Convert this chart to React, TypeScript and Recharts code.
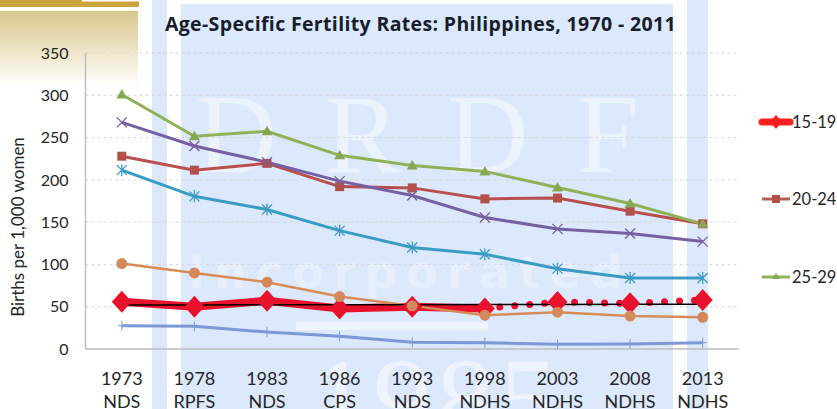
import React from "react";
import { LineChart, Line, XAxis, YAxis, CartesianGrid } from "recharts";

const years = ["1973", "1978", "1983", "1986", "1993", "1998", "2003", "2008", "2013"];
const surveys = ["NDS", "RPFS", "NDS", "CPS", "NDS", "NDHS", "NDHS", "NDHS", "NDHS"];
const yTicks = [0, 50, 100, 150, 200, 250, 300, 350];

const a15_19 = [56, 50, 57, 48, 50, 48, null, null, null];
const a15_19proj = [null, null, null, null, null, 48, 55.5, 54, 58];
const a20_24 = [228, 211.5, 219.5, 192, 190.5, 177.5, 178.5, 163, 148];
const a25_29 = [301, 251.5, 257.5, 229, 217, 210, 191, 172, 148];
const a30_34 = [268, 240, 221, 198.5, 181.5, 155.5, 142, 136.5, 127];
const a35_39 = [211.5, 180.5, 165, 140, 120, 112, 95, 84, 84];
const a40_44 = [101, 90, 79, 62, 51, 40, 43.5, 39, 37.5];
const a45_49 = [27.5, 27, 20, 15, 8, 7.5, 5.5, 6, 7.5];
const trend = [52, 52.1, 52.2, 52.3, 52.4, 52.5, 52.6, 52.8, 53];

const legendNames = ["15-19", "20-24", "25-29"];

const data = years.map((y, i) => ({
  year: y,
  survey: surveys[i],
  a15_19: a15_19[i],
  a15_19proj: a15_19proj[i],
  a20_24: a20_24[i],
  a25_29: a25_29[i],
  a30_34: a30_34[i],
  a35_39: a35_39[i],
  a40_44: a40_44[i],
  a45_49: a45_49[i],
  trend: trend[i],
}));

const FONT = "Lato, 'Open Sans', sans-serif";
const TFONT = "'Open Sans', Lato, sans-serif";
const RED = "#e8122d";

const ok = (p: any) => p && p.cx != null && p.cy != null && p.value != null && !Number.isNaN(p.cy);

const Diamond = (p: any) => {
  if (!ok(p)) return <g key={p.index} />;
  const { cx, cy } = p;
  return <path key={p.index} d={`M${cx},${cy - 11}L${cx + 10},${cy}L${cx},${cy + 11}L${cx - 10},${cy}Z`} fill={RED} />;
};
const DiamondProj = (p: any) => {
  if (!ok(p) || p.index < 6) return <g key={p.index} />;
  return Diamond(p);
};
const Square = (p: any) => {
  if (!ok(p)) return <g key={p.index} />;
  return <rect key={p.index} x={p.cx - 4.5} y={p.cy - 4.5} width={9} height={9} fill="#b3504c" />;
};
const Triangle = (p: any) => {
  if (!ok(p)) return <g key={p.index} />;
  const { cx, cy } = p;
  return <path key={p.index} d={`M${cx},${cy - 5.5}L${cx + 5.5},${cy + 4}L${cx - 5.5},${cy + 4}Z`} fill="#86a852" />;
};
const XMark = (p: any) => {
  if (!ok(p)) return <g key={p.index} />;
  const { cx, cy } = p;
  const s = 5;
  return (
    <path key={p.index} d={`M${cx - s},${cy - s}L${cx + s},${cy + s}M${cx - s},${cy + s}L${cx + s},${cy - s}`} stroke="#7560a3" strokeWidth={1.3} />
  );
};
const Asterisk = (p: any) => {
  if (!ok(p)) return <g key={p.index} />;
  const { cx, cy } = p;
  const s = 5;
  return (
    <path
      key={p.index}
      d={`M${cx - s},${cy - s}L${cx + s},${cy + s}M${cx - s},${cy + s}L${cx + s},${cy - s}M${cx},${cy - s - 1}L${cx},${cy + s + 1}`}
      stroke="#3a9cc4"
      strokeWidth={1.3}
    />
  );
};
const Circle = (p: any) => {
  if (!ok(p)) return <g key={p.index} />;
  return <circle key={p.index} cx={p.cx} cy={p.cy} r={5.5} fill="#d4895a" />;
};
const Plus = (p: any) => {
  if (!ok(p)) return <g key={p.index} />;
  const { cx, cy } = p;
  return <path key={p.index} d={`M${cx - 4},${cy}L${cx + 4},${cy}M${cx},${cy - 5}L${cx},${cy + 5}`} stroke="#7c98d6" strokeWidth={1} />;
};

const XTick = (p: any) => {
  const { x, y, payload, index } = p;
  return (
    <text x={x} y={y} textAnchor="middle" fill="#262626" fontSize={18} fontFamily={FONT}>
      <tspan x={x} y={y + 28}>{payload.value}</tspan>
      <tspan x={x} y={y + 51}>{surveys[index]}</tspan>
    </text>
  );
};

const LegendItem = ({ name, idx }: { name: string; idx: number }) => {
  const top = [122, 199, 277][idx];
  let marker: any = null;
  if (idx === 0) {
    marker = (
      <g>
        <line x1={4} y1={10} x2={32} y2={10} stroke={"#ff1f1f"} strokeWidth={7} strokeLinecap="round" />
        <path d="M18,3L24,10L18,17L12,10Z" fill="#ff1f1f" />
      </g>
    );
  } else if (idx === 1) {
    marker = (
      <g>
        <line x1={4} y1={10} x2={32} y2={10} stroke="#b85a56" strokeWidth={3} />
        <rect x={14} y={6} width={8} height={8} fill="#b3504c" />
      </g>
    );
  } else {
    marker = (
      <g>
        <line x1={4} y1={10} x2={32} y2={10} stroke="#8fb157" strokeWidth={3} />
        <path d="M18,6L22,12L14,12Z" fill="#86a852" />
      </g>
    );
  }
  return (
    <div style={{ position: "absolute", left: 758, top: top - 10, height: 20, display: "flex", alignItems: "center" }}>
      <svg width={36} height={20}>{marker}</svg>
      <span style={{ fontFamily: FONT, fontSize: 16.5, color: "#262626", marginLeft: -2, whiteSpace: "nowrap" }}>{name}</span>
    </div>
  );
};

export default function App() {
  return (
    <div style={{ position: "fixed", left: 0, top: 0, width: 837, height: 409, background: "#fff", overflow: "hidden" }}>
      <svg width={837} height={409} style={{ position: "absolute", left: 0, top: 0 }}>
        <defs>
          <linearGradient id="gold" x1="0" y1="0" x2="0" y2="1">
            <stop offset="0" stopColor="#d8c68e" />
            <stop offset="0.55" stopColor="#efe6c9" />
            <stop offset="1" stopColor="#ffffff" />
          </linearGradient>
        </defs>
        {/* watermark background */}
        <rect x={152} y={0} width={15} height={409} fill="#dce8fb" />
        <rect x={181} y={4} width={492} height={405} fill="#dce8fb" />
        <rect x={687} y={0} width={21} height={409} fill="#dce8fb" />
        <text x={196} y={172} fontFamily="'Liberation Serif', serif" fontSize={112} fill="#edf3fd" letterSpacing={48}>
          DRDF
        </text>
        <text x={188} y={288} fontFamily="'DejaVu Sans', sans-serif" fontWeight="bold" fontSize={46} fill="#e8effc" letterSpacing={9}>
          Incorporated
        </text>
        <rect x={296} y={322} width={192} height={8} fill="#eff4fd" />
        <text x={310} y={440} fontFamily="'Liberation Serif', serif" fontSize={118} fill="#eef3fd" letterSpacing={4}>
          1985
        </text>
        {/* gold decoration */}
        <rect x={0} y={0} width={139} height={7} fill="#c9a53b" />
        <rect x={82} y={0} width={57} height={1.5} fill="#ffffff" />
        <rect x={0} y={11} width={138} height={75} fill="url(#gold)" />
        <text x={420.5} y={31} textAnchor="middle" fontFamily={TFONT} fontWeight="bold" fontSize={19.5} letterSpacing={0.35} fill="#171d2b">
          Age-Specific Fertility Rates: Philippines, 1970 - 2011
        </text>
        <text
          x={0}
          y={0}
          transform="translate(24,227) rotate(-90)"
          textAnchor="middle"
          fontFamily={FONT}
          fontSize={17}
          fill="#262626"
        >
          Births per 1,000 women
        </text>
      </svg>
      <div style={{ position: "absolute", left: 0, top: 0 }}>
        <LineChart width={837} height={409} data={data} margin={{ top: 53, right: 98, bottom: 0, left: 0 }}>
          <CartesianGrid vertical={false} stroke="#d6d6d6" strokeDasharray="3 3" />
          <XAxis
            dataKey="year"
            tick={<XTick />}
            tickLine={false}
            axisLine={{ stroke: "#bfbfbf", strokeWidth: 1.5 }}
            interval={0}
            height={60}
            padding={{ left: 36.3, right: 36.3 }}
          />
          <YAxis
            width={85.5}
            domain={[0, 350]}
            ticks={yTicks}
            tickLine={false}
            tickSize={0}
            tickMargin={17}
            axisLine={{ stroke: "#bfbfbf", strokeWidth: 1.5 }}
            tick={{ fill: "#262626", fontSize: 16, fontFamily: FONT }}
          />
          <Line dataKey="a15_19" stroke={RED} strokeWidth={8} dot={Diamond} isAnimationActive={false} />
          <Line
            dataKey="a15_19proj"
            stroke={RED}
            strokeWidth={7}
            strokeLinecap="round"
            strokeDasharray="0 15"
            dot={DiamondProj}
            isAnimationActive={false}
          />
          <Line dataKey="a20_24" stroke="#b7504c" strokeWidth={3} dot={Square} isAnimationActive={false} />
          <Line dataKey="a25_29" stroke="#8fb157" strokeWidth={3} dot={Triangle} isAnimationActive={false} />
          <Line dataKey="a30_34" stroke="#7560a3" strokeWidth={3} dot={XMark} isAnimationActive={false} />
          <Line dataKey="a35_39" stroke="#3a9cc4" strokeWidth={3} dot={Asterisk} isAnimationActive={false} />
          <Line dataKey="a40_44" stroke="#d88b55" strokeWidth={2.5} dot={Circle} isAnimationActive={false} />
          <Line dataKey="a45_49" stroke="#7c98d6" strokeWidth={3} dot={Plus} isAnimationActive={false} />
          <Line dataKey="trend" stroke="#000000" strokeWidth={1.5} dot={false} isAnimationActive={false} />
        </LineChart>
      </div>
      {legendNames.map((n, i) => (
        <LegendItem key={n} name={n} idx={i} />
      ))}
    </div>
  );
}
